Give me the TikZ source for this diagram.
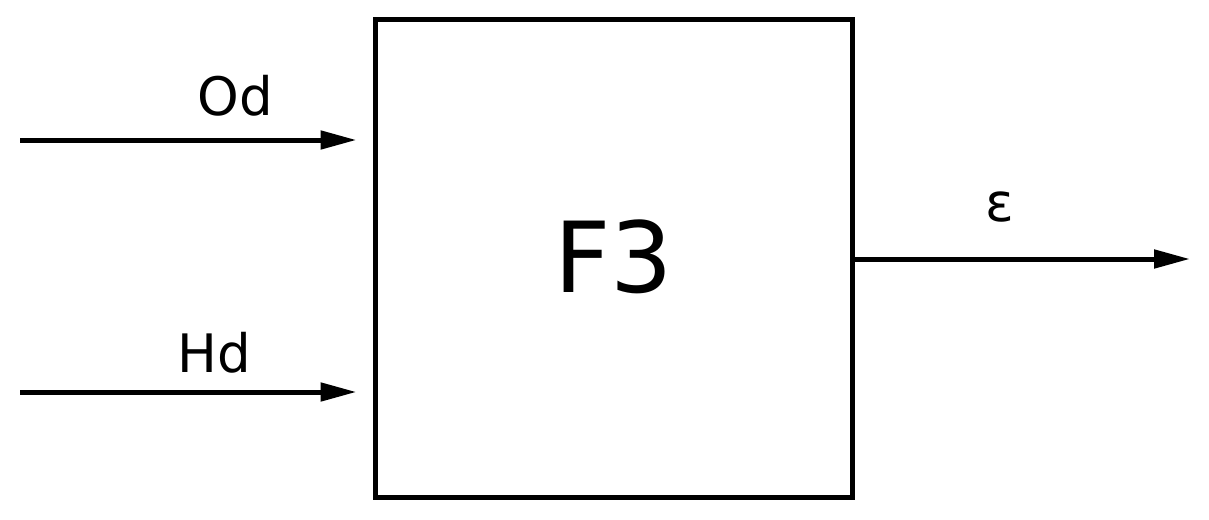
\documentclass[tikz,border=0pt]{standalone}
\usepackage{fontspec}
\setmainfont{DejaVu Sans}
\usetikzlibrary{arrows.meta}
\begin{document}
\begin{tikzpicture}[x=1pt,y=-1pt,
  blockbox/.style={draw,line width=5pt,minimum width=477pt,minimum height=477pt,inner sep=0pt,font=\fontsize{98}{98}\selectfont},
  sig/.style={line width=5pt,-{Triangle[length=36pt,width=18pt]}},
  lbl/.style={inner sep=0pt,font=\fontsize{53}{53}\selectfont}]
\useasboundingbox (0,0) rectangle (1209,519);
\node[blockbox] (f3) at (613.5,258.5) {\raisebox{4pt}{F3}};
\coordinate (odin) at (20,140);
\coordinate (hdin) at (20,392);
\coordinate (epsout) at (1190,259);
\draw[sig,shorten >=16pt] (odin) -- (f3.west |- odin);
\draw[sig,shorten >=16pt] (hdin) -- (f3.west |- hdin);
\draw[sig] (f3.east |- epsout) -- (epsout);
\node[lbl] (od) at (235,96) {Od};
\node[lbl] (hd) at (214,353) {Hd};
\node[lbl] (eps) at (1000,207) {ε};
\end{tikzpicture}
\end{document}
